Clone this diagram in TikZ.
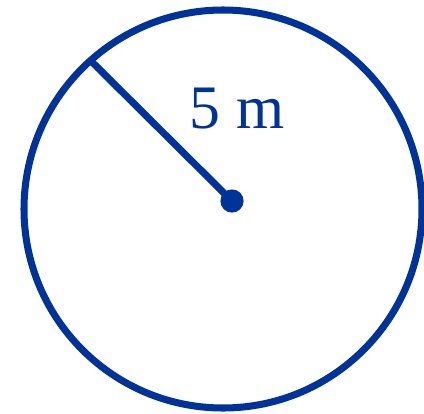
\documentclass[tikz,border=0pt]{standalone}
\usepackage{fontspec}
\setmainfont{Liberation Serif}
\definecolor{circblue}{RGB}{0,51,153}
\begin{document}
\begin{tikzpicture}
    \useasboundingbox (0,0) rectangle (10.6,10.325);
    % Circle outline
    \draw[circblue, line width=5pt] (5.575,5.1) circle (4.975);
    
    % Centre point and point on the rim
    \node[circle, fill=circblue, inner sep=0pt, minimum size=0.58cm] (centre) at (5.8,5.3) {};
    \coordinate (rim) at (2.275,8.8);
    
    % Radius
    \draw[circblue, line width=5pt] (rim) -- (centre.center);
    
    % Radius label
    \node[circblue, font=\fontsize{44}{50}\selectfont] (radius) at (5.925,7.6) {5 m};
\end{tikzpicture}
\end{document}
